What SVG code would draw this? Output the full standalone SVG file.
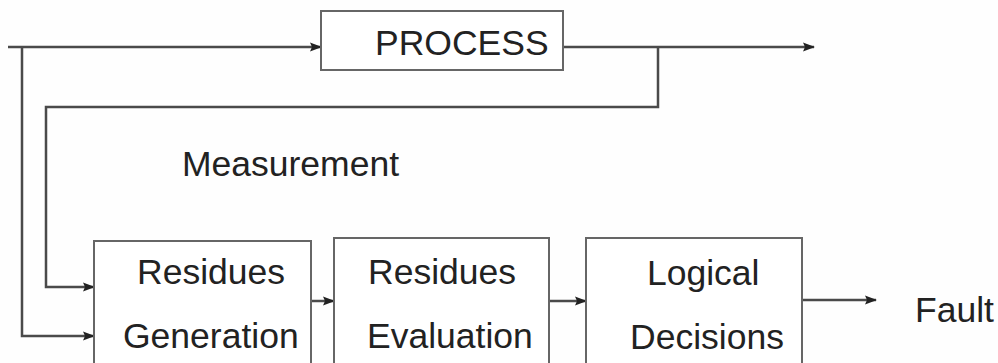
<svg xmlns="http://www.w3.org/2000/svg" width="998" height="363" viewBox="0 0 998 363">
<style>
.box{fill:#fff;stroke:#666;stroke-width:2}
.ln{fill:none;stroke:#4a4a4a;stroke-width:2.5}
.t{font-family:"Liberation Sans",Arial,sans-serif;font-size:35.5px;fill:#222}
</style>
<defs>
<marker id="ah" viewBox="0 0 12 10" refX="11" refY="5" markerWidth="12" markerHeight="10" markerUnits="userSpaceOnUse" orient="auto">
<path d="M0,0.5 L12,5 L0,9.5 L2,5 Z" fill="#222"/>
</marker>
</defs>
<rect width="998" height="363" fill="#fefefe"/>
<g id="connectors">
<path class="ln" d="M8,47 H321" marker-end="url(#ah)"/>
<path class="ln" d="M563,47 H814" marker-end="url(#ah)"/>
<path class="ln" d="M658,47 V107 H46 V287 H94" marker-end="url(#ah)"/>
<path class="ln" d="M22,47 V336 H94" marker-end="url(#ah)"/>
<path class="ln" d="M311,301 H334" marker-end="url(#ah)"/>
<path class="ln" d="M549,301 H586" marker-end="url(#ah)"/>
<path class="ln" d="M802,300 H876" marker-end="url(#ah)"/>
</g>
<g id="process">
<rect class="box" x="321" y="11" width="242" height="59"/>
<text class="t" x="375" y="55">PROCESS</text>
</g>
<g id="measurement">
<text class="t" x="182" y="176">Measurement</text>
</g>
<g id="residues-generation">
<rect class="box" x="94" y="241" width="217" height="140"/>
<text class="t" x="137" y="284">Residues</text>
<text class="t" x="123" y="348">Generation</text>
</g>
<g id="residues-evaluation">
<rect class="box" x="334" y="238" width="215" height="140"/>
<text class="t" x="368" y="284">Residues</text>
<text class="t" x="367" y="348">Evaluation</text>
</g>
<g id="logical-decisions">
<rect class="box" x="586" y="238" width="216" height="140"/>
<text class="t" x="647" y="285">Logical</text>
<text class="t" x="630" y="349">Decisions</text>
</g>
<g id="fault">
<text class="t" x="915" y="322">Fault</text>
</g>
</svg>
